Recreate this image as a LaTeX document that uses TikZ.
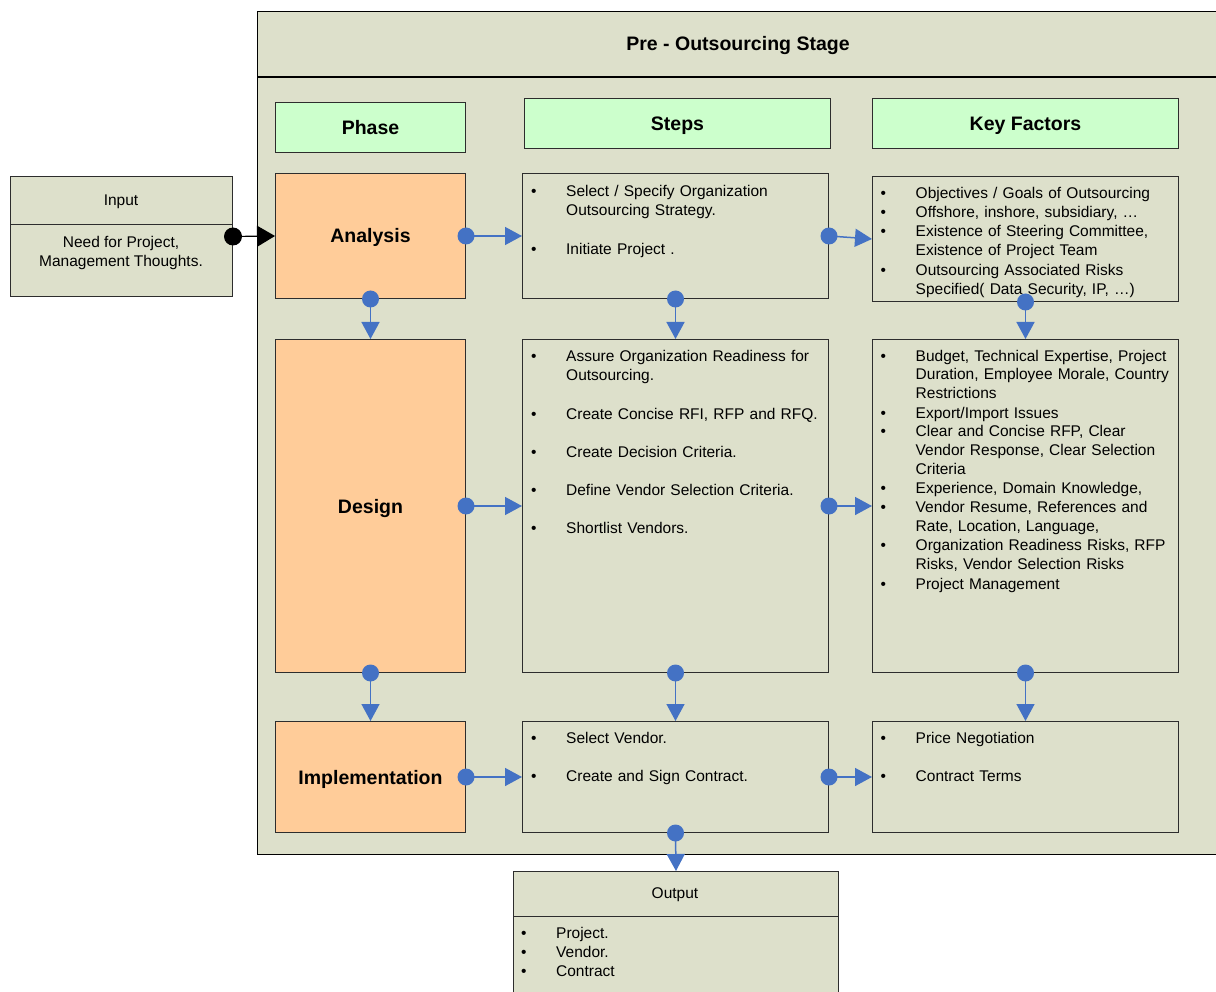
\documentclass[tikz,border=0pt]{standalone}
\usepackage{fontspec}
\setmainfont{Liberation Sans}
\usetikzlibrary{arrows.meta}
\definecolor{sage}{RGB}{221,224,203}
\definecolor{hdrgreen}{RGB}{204,255,204}
\definecolor{phaseorange}{RGB}{255,204,153}
\definecolor{connblue}{RGB}{68,114,196}
\definecolor{edgegray}{RGB}{45,45,45}
\newcommand{\bitem}[1]{\par\noindent\makebox[35pt][l]{\textbullet}\begin{tabular}[t]{@{}l@{}}#1\end{tabular}}
\newcommand{\bgap}{\par\vspace{19pt}}
\newcommand{\listsetup}{\lineskiplimit=-5pt\relax\parskip=0pt\relax}
\tikzset{
  box/.style={draw=edgegray, line width=1pt, fill=sage, anchor=north west, inner sep=0pt},
  hdrbox/.style={box, fill=hdrgreen},
  phasebox/.style={box, fill=phaseorange},
  bigtxt/.style={font=\fontsize{19.5}{23}\selectfont\bfseries, inner sep=0pt, text height=14pt, text depth=0pt},
  smalltxt/.style={font=\fontsize{15.5}{19}\selectfont, inner sep=0pt, text height=11pt, text depth=0pt},
  listtxt/.style={font=\fontsize{15.5}{19}\selectfont, execute at begin node=\listsetup, inner sep=0pt, text width=320pt, align=left, anchor=north west},
  conn/.style={draw=connblue, line width=1.5pt, -{Triangle[length=17pt,width=18pt]}},
  bluedot/.style={circle, fill=connblue, inner sep=0pt, minimum size=17pt},
  blackdot/.style={circle, fill=black, inner sep=0pt, minimum size=18pt},
  divider/.style={draw=black, line width=1.1pt},
}
\begin{document}
\begin{tikzpicture}[x=1pt,y=-1pt]
\useasboundingbox (0,0) rectangle (1216,992);
\clip (0,0) rectangle (1216,992);
\fill[white] (0,0) rectangle (1216,992);

% outer stage frame
\node[box, draw=black, line width=1.2pt, minimum width=1000pt, minimum height=843pt] (stage) at (257,11) {};
\draw[divider] (257,77) -- (1257,77);
\node[bigtxt] (ttl) at (738,44) {Pre - Outsourcing Stage};

% headers
\node[hdrbox, minimum width=190pt, minimum height=50pt] (phasehdr) at (275,102) {};
\node[hdrbox, minimum width=306pt, minimum height=50pt] (stepshdr) at (524,98) {};
\node[hdrbox, minimum width=306pt, minimum height=50pt] (kfhdr) at (872,98) {};
\node[bigtxt] (phaset) at (phasehdr.center) {Phase};
\node[bigtxt] (stepst) at (stepshdr.center) {Steps};
\node[bigtxt] (kft) at (kfhdr.center) {Key Factors};

% phases
\node[phasebox, minimum width=190pt, minimum height=125pt] (an) at (275,173) {};
\node[phasebox, minimum width=190pt, minimum height=333pt] (de) at (275,339) {};
\node[phasebox, minimum width=190pt, minimum height=111pt] (im) at (275,721) {};
\node[bigtxt] (ant) at (an.center) {Analysis};
\node[bigtxt] (det) at (de.center) {Design};
\node[bigtxt] (imt) at (im.center) {Implementation};

% steps
\node[box, minimum width=306pt, minimum height=125pt] (s1) at (522,173) {};
\node[box, minimum width=306pt, minimum height=333pt] (s2) at (522,339) {};
\node[box, minimum width=306pt, minimum height=111pt] (s3) at (522,721) {};

% key factors
\node[box, minimum width=306pt, minimum height=125pt] (k1) at (872,176) {};
\node[box, minimum width=306pt, minimum height=333pt] (k2) at (872,339) {};
\node[box, minimum width=306pt, minimum height=111pt] (k3) at (872,721) {};

% input / output
\node[box, minimum width=222pt, minimum height=120pt] (in) at (10,176) {};
\draw[divider, draw=edgegray, line width=1pt] (10,225) -- (232,225);
\node[smalltxt] (inhd) at (121,200.5) {Input};
\node[smalltxt] (in1) at (121,242.5) {Need for Project,};
\node[smalltxt] (in2) at (121,261.5) {Management Thoughts.};

\node[box, minimum width=325pt, minimum height=140pt] (out) at (513,871) {};
\draw[divider, draw=edgegray, line width=1pt] (513,916) -- (838,916);
\node[smalltxt] (outhd) at (675,892.5) {Output};

% list texts
\node[listtxt] (s1t) at (531,177.2) {%
\bitem{Select / Specify Organization\\Outsourcing Strategy.}\bgap
\bitem{Initiate Project .}};

\node[listtxt] (k1t) at (880.5,179.2) {%
\bitem{Objectives / Goals of Outsourcing}
\bitem{Offshore, inshore, subsidiary, …}
\bitem{Existence of Steering Committee,\\Existence of Project Team}
\bitem{Outsourcing Associated Risks\\Specified( Data Security, IP, …)}};

\node[listtxt] (s2t) at (531,342.2) {%
\bitem{Assure Organization Readiness for\\Outsourcing.}\bgap
\bitem{Create Concise RFI, RFP and RFQ.}\bgap
\bitem{Create Decision Criteria.}\bgap
\bitem{Define Vendor Selection Criteria.}\bgap
\bitem{Shortlist Vendors.}};

\node[listtxt, font=\fontsize{15.5}{18.65}\selectfont] (k2t) at (880.5,342.5) {%
\bitem{Budget, Technical Expertise, Project\\Duration, Employee Morale, Country\\Restrictions}
\bitem{Export/Import Issues}
\bitem{Clear and Concise RFP, Clear\\Vendor Response, Clear Selection\\Criteria}
\bitem{Experience, Domain Knowledge,}
\bitem{Vendor Resume, References and\\Rate, Location, Language,}
\bitem{Organization Readiness Risks, RFP\\Risks, Vendor Selection Risks}
\bitem{Project Management}};

\node[listtxt] (s3t) at (531,724.2) {%
\bitem{Select Vendor.}\bgap
\bitem{Create and Sign Contract.}};

\node[listtxt] (k3t) at (880.5,724.2) {%
\bitem{Price Negotiation}\bgap
\bitem{Contract Terms}};

\node[listtxt] (outt) at (521,919.5) {%
\bitem{Project.}
\bitem{Vendor.}
\bitem{Contract}};

% input connector
\draw[draw=black, line width=1.2pt, -{Triangle[length=18pt,width=21pt]}] (in.east) -- (an.west);
\node[blackdot] (indot) at (in.east) {};

% blue connectors
\draw[conn] (an.east) -- (s1.west);
\draw[conn] (s1.east) -- (k1.west);
\draw[conn] (an.south) -- (de.north);
\draw[conn] (s1.south) -- (s2.north);
\draw[conn] (k1.south) -- (k2.north);
\draw[conn] (de.east) -- (s2.west);
\draw[conn] (s2.east) -- (k2.west);
\draw[conn] (de.south) -- (im.north);
\draw[conn] (s2.south) -- (s3.north);
\draw[conn] (k2.south) -- (k3.north);
\draw[conn] (im.east) -- (s3.west);
\draw[conn] (s3.east) -- (k3.west);
\draw[conn] (s3.south) -- (out.north);

\node[bluedot] (d1) at (an.east) {};
\node[bluedot] (d2) at (s1.east) {};
\node[bluedot] (d3) at (an.south) {};
\node[bluedot] (d4) at (s1.south) {};
\node[bluedot] (d5) at (k1.south) {};
\node[bluedot] (d6) at (de.east) {};
\node[bluedot] (d7) at (s2.east) {};
\node[bluedot] (d8) at (de.south) {};
\node[bluedot] (d9) at (s2.south) {};
\node[bluedot] (d10) at (k2.south) {};
\node[bluedot] (d11) at (im.east) {};
\node[bluedot] (d12) at (s3.east) {};
\node[bluedot] (d13) at (s3.south) {};
\end{tikzpicture}
\end{document}
